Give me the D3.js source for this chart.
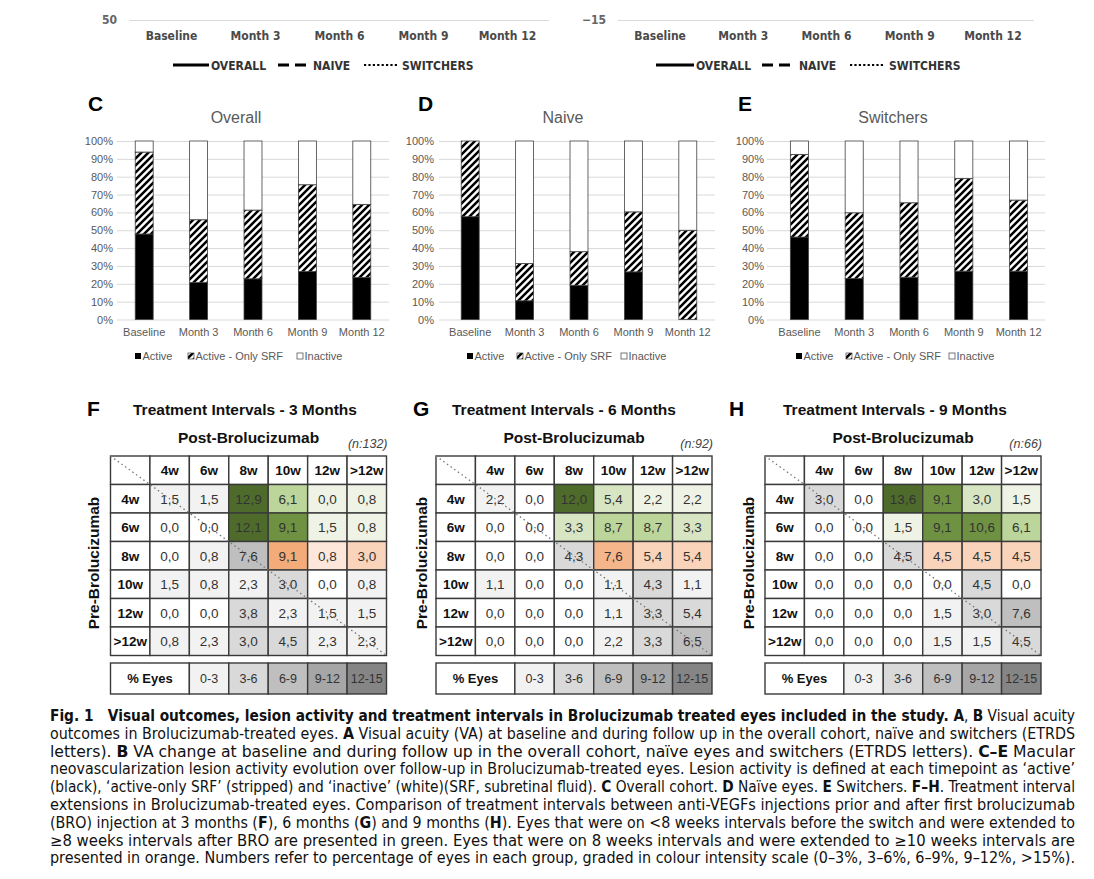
<!DOCTYPE html>
<html>
<head>
<meta charset="utf-8">
<script src="https://cdn.jsdelivr.net/npm/d3@7"></script>
<style>
  body { margin: 0; background: #fff; }
  svg { display: block; font-family: "Liberation Sans", Arial, sans-serif; }
</style>
</head>
<body>
<svg id="fig" width="1094" height="879"></svg>
<script>
// ---- data ----
const months = ['Baseline', 'Month 3', 'Month 6', 'Month 9', 'Month 12'];
const vaTicksA = [50];
const vaTicksB = [-15];
const vaSeries = ['OVERALL', 'NAIVE', 'SWITCHERS'];

const pctTicks = [0, 10, 20, 30, 40, 50, 60, 70, 80, 90, 100];
const activityKeys = ['Active', 'Active - Only SRF', 'Inactive'];

// % of eyes per timepoint
const overallActive = [47.9, 20.7, 22.8, 26.9, 23.6];
const overallSrf = [45.9, 35.2, 38.5, 48.6, 40.9];
const overallInactive = [6.2, 44.1, 38.7, 24.5, 35.5];

const naiveActive = [57.6, 10.5, 19.2, 26.7, 0];
const naiveSrf = [42.4, 20.9, 18.8, 33.6, 50.0];
const naiveInactive = [0, 68.6, 62.0, 39.7, 50.0];

const switchActive = [46.2, 23.0, 23.7, 27.1, 27.1];
const switchSrf = [46.3, 36.8, 41.7, 52.0, 39.8];
const switchInactive = [7.5, 40.2, 34.6, 20.9, 33.1];

// treatment intervals, rows = pre, cols = post
const weeks = ['4w', '6w', '8w', '10w', '12w', '>12w'];
const scaleLabels = ['0-3', '3-6', '6-9', '9-12', '12-15'];
const scaleMid = [1.5, 4.5, 7.5, 10.5, 13.5];

const months3 = [
  [1.5, 1.5, 12.9, 6.1, 0.0, 0.8],
  [0.0, 0.0, 12.1, 9.1, 1.5, 0.8],
  [0.0, 0.8, 7.6, 9.1, 0.8, 3.0],
  [1.5, 0.8, 2.3, 3.0, 0.0, 0.8],
  [0.0, 0.0, 3.8, 2.3, 1.5, 1.5],
  [0.8, 2.3, 3.0, 4.5, 2.3, 2.3]
];
const months6 = [
  [2.2, 0.0, 12.0, 5.4, 2.2, 2.2],
  [0.0, 0.0, 3.3, 8.7, 8.7, 3.3],
  [0.0, 0.0, 4.3, 7.6, 5.4, 5.4],
  [1.1, 0.0, 0.0, 1.1, 4.3, 1.1],
  [0.0, 0.0, 0.0, 1.1, 3.3, 5.4],
  [0.0, 0.0, 0.0, 2.2, 3.3, 6.5]
];
const months9 = [
  [3.0, 0.0, 13.6, 9.1, 3.0, 1.5],
  [0.0, 0.0, 1.5, 9.1, 10.6, 6.1],
  [0.0, 0.0, 4.5, 4.5, 4.5, 4.5],
  [0.0, 0.0, 0.0, 0.0, 4.5, 0.0],
  [0.0, 0.0, 0.0, 1.5, 3.0, 7.6],
  [0.0, 0.0, 0.0, 1.5, 1.5, 4.5]
];

const captionLines = [
  '**Fig. 1   Visual outcomes, lesion activity and treatment intervals in Brolucizumab treated eyes included in the study. A**, **B** Visual acuity',
  'outcomes in Brolucizumab-treated eyes. **A** Visual acuity (VA) at baseline and during follow up in the overall cohort, naïve and switchers (ETRDS',
  'letters). **B** VA change at baseline and during follow up in the overall cohort, naïve eyes and switchers (ETRDS letters). **C–E** Macular',
  'neovascularization lesion activity evolution over follow-up in Brolucizumab-treated eyes. Lesion activity is defined at each timepoint as ‘active’',
  '(black), ‘active-only SRF’ (stripped) and ‘inactive’ (white)(SRF, subretinal fluid). **C** Overall cohort. **D** Naïve eyes. **E** Switchers. **F–H**. Treatment interval',
  'extensions in Brolucizumab-treated eyes. Comparison of treatment intervals between anti-VEGFs injections prior and after first brolucizumab',
  '(BRO) injection at 3 months (**F**), 6 months (**G**) and 9 months (**H**). Eyes that were on <8 weeks intervals before the switch and were extended to',
  '≥8 weeks intervals after BRO are presented in green. Eyes that were on 8 weeks intervals and were extended to ≥10 weeks intervals are',
  'presented in orange. Numbers refer to percentage of eyes in each group, graded in colour intensity scale (0–3%, 3–6%, 6–9%, 9–12%, >15%).'
];

// ---- drawing ----
const svg = d3.select('#fig');
const narrow = '"Liberation Sans Narrow", "DejaVu Sans Condensed", "Liberation Sans", sans-serif';
const grid = '#d9d9d9';
const axisText = '#595959';

const defs = svg.append('defs');
const hatch = defs.append('pattern').attr('id', 'hatch')
  .attr('patternUnits', 'userSpaceOnUse').attr('width', 7).attr('height', 7);
hatch.append('rect').attr('width', 7).attr('height', 7).attr('fill', '#fff');
hatch.append('path').attr('d', 'M-1.75,1.75 l3.5,-3.5 M0,7 l7,-7 M5.25,8.75 l3.5,-3.5')
  .attr('stroke', '#000').attr('stroke-width', 2.5);

// A / B: only the bottom edge of the VA charts is in the crop
function drawVaFragment(xr, ticks, legend) {
  const g = svg.append('g');
  const x = d3.scalePoint().domain(months).range(xr).padding(0.5);
  const y = d3.scaleLinear().domain([ticks[0], ticks[0] + 10]).range([20, -100]);

  const ya = g.append('g').attr('transform', `translate(${xr[0]},0)`)
    .call(d3.axisLeft(y).tickValues(ticks).tickSize(-(xr[1] - xr[0])).tickPadding(12));
  ya.select('.domain').remove();
  ya.selectAll('line').attr('stroke', grid).attr('stroke-width', 1.2);
  ya.selectAll('text').attr('font-family', narrow).attr('font-size', 12)
    .attr('font-weight', 'bold').attr('fill', '#666');

  const xa = g.append('g').attr('transform', 'translate(0,20)')
    .call(d3.axisBottom(x).tickSize(0).tickPadding(11));
  xa.select('.domain').remove();
  xa.selectAll('text').attr('font-family', narrow).attr('font-size', 12)
    .attr('font-weight', 'bold').attr('fill', '#4a4a4a');

  const dashes = [null, '11,6', '2.2,2.2'];
  const widths = [3, 3, 2.2];
  vaSeries.forEach((name, i) => {
    const it = legend[i];
    g.append('line').attr('x1', it[0]).attr('x2', it[1]).attr('y1', 65).attr('y2', 65)
      .attr('stroke', '#000').attr('stroke-width', widths[i])
      .attr('stroke-dasharray', dashes[i]);
    g.append('text').attr('x', it[2]).attr('y', 69.5).text(name)
      .attr('font-family', narrow).attr('font-size', 12).attr('font-weight', 'bold').attr('fill', '#333');
  });
}
drawVaFragment([129, 549], vaTicksA, [[173, 209, 211], [278, 307, 313], [364, 399, 402]]);
drawVaFragment([618, 1034], vaTicksB, [[656, 694, 696], [762, 792, 799], [850, 885, 889]]);

// C - E: lesion activity stacked bars
const fills = { 'Active': '#000', 'Active - Only SRF': 'url(#hatch)', 'Inactive': '#fff' };
const activityPanels = [
  { letter: 'C', letterX: 88, title: 'Overall', titleX: 236, x0: 117, x1: 389, labelX: 113, gx0: 117, gx1: 389,
    vals: [overallActive, overallSrf, overallInactive], leg: [135, 188, 297] },
  { letter: 'D', letterX: 418, title: 'Naive', titleX: 563, x0: 443, x1: 715, labelX: 434, gx0: 439, gx1: 715,
    vals: [naiveActive, naiveSrf, naiveInactive], leg: [467, 517, 621] },
  { letter: 'E', letterX: 738, title: 'Switchers', titleX: 893, x0: 772, x1: 1046, labelX: 764, gx0: 767, gx1: 1045,
    vals: [switchActive, switchSrf, switchInactive], leg: [796, 846, 949] }
];

activityPanels.forEach(p => {
  const g = svg.append('g');
  const x = d3.scaleBand().domain(months).range([p.x0, p.x1]).paddingInner(0.67).paddingOuter(0.335);
  const y = d3.scaleLinear().domain([0, 100]).range([319.5, 141]);

  g.append('text').attr('x', p.letterX).attr('y', 111).text(p.letter)
    .attr('font-size', 21).attr('font-weight', 'bold').attr('fill', '#000');
  g.append('text').attr('x', p.titleX).attr('y', 123).attr('text-anchor', 'middle').text(p.title)
    .attr('font-size', 16).attr('fill', axisText);

  const gridAxis = g.append('g').attr('transform', `translate(${p.gx0},0)`)
    .call(d3.axisLeft(y).tickValues(pctTicks).tickSize(-(p.gx1 - p.gx0)).tickFormat(''));
  gridAxis.select('.domain').remove();
  gridAxis.selectAll('line').attr('stroke', grid).attr('stroke-width', 1);

  const ya = g.append('g').attr('transform', `translate(${p.labelX},0)`)
    .call(d3.axisLeft(y).tickValues(pctTicks).tickSize(0).tickPadding(0).tickFormat(d => d + '%'));
  ya.select('.domain').remove();
  ya.selectAll('text').attr('font-size', 11).attr('fill', axisText);

  const xa = g.append('g').attr('transform', 'translate(0,319.5)')
    .call(d3.axisBottom(x).tickSize(0).tickPadding(9));
  xa.select('.domain').remove();
  xa.selectAll('text').attr('font-size', 11).attr('fill', axisText);

  const rows = months.map((m, i) => {
    const r = { month: m };
    activityKeys.forEach((k, j) => { r[k] = p.vals[j][i]; });
    return r;
  });
  const series = d3.stack().keys(activityKeys)(rows);
  g.selectAll('g.layer').data(series).join('g').attr('class', 'layer')
    .attr('fill', d => fills[d.key])
    .selectAll('rect').data(d => d.filter(s => s[1] - s[0] > 0)).join('rect')
    .attr('x', d => x(d.data.month)).attr('width', x.bandwidth())
    .attr('y', d => y(d[1])).attr('height', d => y(d[0]) - y(d[1]))
    .attr('stroke', '#404040').attr('stroke-width', 0.8);

  activityKeys.forEach((k, j) => {
    const lx = p.leg[j];
    g.append('rect').attr('x', lx).attr('y', 353).attr('width', 6).attr('height', 6)
      .attr('fill', fills[k]).attr('stroke', j ? '#404040' : 'none').attr('stroke-width', 0.7);
    g.append('text').attr('x', lx + 7.5).attr('y', 360).text(k)
      .attr('font-size', 11).attr('fill', axisText);
  });
});

// F - H: treatment interval tables
const greyScale = d3.scaleThreshold().domain([3, 6, 9, 12])
  .range(['#f2f2f2', '#d9d9d9', '#bfbfbf', '#a6a6a6', '#858585']);
const greenScale = d3.scaleThreshold().domain([3, 6, 9, 12])
  .range(['#eef3e5', '#d8e5c3', '#bcd59a', '#6f9242', '#4e6b2c']);
const orangeScale = d3.scaleThreshold().domain([3, 6, 9, 12])
  .range(['#fde7da', '#f9d4bb', '#f5b68c', '#f3ab7a', '#e8955c']);
const fmt = d3.formatLocale({ decimal: ',', thousands: '.', grouping: [3], currency: ['', ''] }).format('.1f');

function cellColor(v, r, c) {
  if (r < 2 && c >= 2) return greenScale(v);   // <8w extended to >=8w
  if (r === 2 && c >= 3) return orangeScale(v); // 8w extended to >=10w
  return v === 0 ? '#fff' : greyScale(v);
}

const tablePanels = [
  { letter: 'F', letterX: 87, title: 'Treatment Intervals - 3 Months', titleX: 133, n: '(n:132)', x: 110.5, preX: 93, data: months3 },
  { letter: 'G', letterX: 413, title: 'Treatment Intervals - 6 Months', titleX: 452, n: '(n:92)', x: 436, preX: 421, data: months6 },
  { letter: 'H', letterX: 729, title: 'Treatment Intervals - 9 Months', titleX: 783, n: '(n:66)', x: 765, preX: 748, data: months9 }
];
const border = '#3a3a3a';

tablePanels.forEach(p => {
  const g = svg.append('g');
  const w = 276;
  const col = d3.scaleBand().domain(['', ...weeks]).range([p.x, p.x + w]);
  const row = d3.scaleBand().domain(['', ...weeks]).range([456, 655.5]);
  const cw = col.bandwidth(), rh = row.bandwidth();

  g.append('text').attr('x', p.letterX).attr('y', 416).text(p.letter)
    .attr('font-size', 21).attr('font-weight', 'bold');
  g.append('text').attr('x', p.titleX).attr('y', 415).text(p.title)
    .attr('font-size', 15.5).attr('font-weight', 'bold').attr('fill', '#111');
  g.append('text').attr('x', p.x + 138).attr('y', 443).attr('text-anchor', 'middle').text('Post-Brolucizumab')
    .attr('font-size', 15.5).attr('font-weight', 'bold').attr('fill', '#111');
  g.append('text').attr('x', p.x + w + 1).attr('y', 448).attr('text-anchor', 'end').text(p.n)
    .attr('font-size', 12.5).attr('font-style', 'italic').attr('fill', '#444');
  g.append('text').attr('transform', `translate(${p.preX + 5.5},563) rotate(-90)`)
    .attr('text-anchor', 'middle').text('Pre-Brolucizumab')
    .attr('font-size', 15.5).attr('font-weight', 'bold').attr('fill', '#111');

  // header row + header column
  const heads = [{ r: '', c: '', t: '' }]
    .concat(weeks.map(wk => ({ r: '', c: wk, t: wk })))
    .concat(weeks.map(wk => ({ r: wk, c: '', t: wk })));
  g.selectAll('rect.head').data(heads).join('rect').attr('class', 'head')
    .attr('x', d => col(d.c)).attr('y', d => row(d.r)).attr('width', cw).attr('height', rh)
    .attr('fill', '#fff').attr('stroke', border).attr('stroke-width', 1.4);
  g.selectAll('text.head').data(heads.filter(d => d.t)).join('text').attr('class', 'head')
    .attr('x', d => col(d.c) + cw / 2).attr('y', d => row(d.r) + rh / 2 + 5)
    .attr('text-anchor', 'middle').text(d => d.t)
    .attr('font-size', 13.5).attr('font-weight', 'bold').attr('fill', '#111');

  const cells = [];
  p.data.forEach((vals, r) => vals.forEach((v, c) => cells.push({ r, c, v })));
  g.selectAll('rect.cell').data(cells).join('rect').attr('class', 'cell')
    .attr('x', d => col(weeks[d.c])).attr('y', d => row(weeks[d.r]))
    .attr('width', cw).attr('height', rh)
    .attr('fill', d => cellColor(d.v, d.r, d.c)).attr('stroke', border).attr('stroke-width', 1.4);
  g.selectAll('text.cell').data(cells).join('text').attr('class', 'cell')
    .attr('x', d => col(weeks[d.c]) + cw / 2).attr('y', d => row(weeks[d.r]) + rh / 2 + 5)
    .attr('text-anchor', 'middle').text(d => fmt(d.v))
    .attr('font-size', 13.5).attr('fill', '#333');

  // diagonal (no change in interval)
  g.append('line').attr('x1', p.x).attr('y1', 456).attr('x2', p.x + w).attr('y2', 655.5)
    .attr('stroke', '#777').attr('stroke-width', 1.3).attr('stroke-dasharray', '1.5,3');

  // colour key
  const ky = 663, kh = 31;
  g.append('rect').attr('x', col('')).attr('y', ky).attr('width', cw * 2).attr('height', kh)
    .attr('fill', '#fff').attr('stroke', border).attr('stroke-width', 1.4);
  g.append('text').attr('x', col('') + cw).attr('y', ky + kh / 2 + 4.5).attr('text-anchor', 'middle')
    .text('% Eyes').attr('font-size', 13).attr('font-weight', 'bold').attr('fill', '#111');
  const keyCols = weeks.slice(1);
  g.selectAll('rect.key').data(scaleLabels).join('rect').attr('class', 'key')
    .attr('x', (d, i) => col(keyCols[i])).attr('y', ky).attr('width', cw).attr('height', kh)
    .attr('fill', (d, i) => greyScale(scaleMid[i])).attr('stroke', border).attr('stroke-width', 1.4);
  g.selectAll('text.key').data(scaleLabels).join('text').attr('class', 'key')
    .attr('x', (d, i) => col(keyCols[i]) + cw / 2).attr('y', ky + kh / 2 + 4.5)
    .attr('text-anchor', 'middle').text(d => d)
    .attr('font-size', 12.5).attr('fill', '#333');
});

// caption (justified lines)
const cap = svg.append('g').attr('font-family', narrow).attr('font-size', 15).attr('fill', '#111');
captionLines.forEach((line, i) => {
  const t = cap.append('text').attr('x', 50).attr('y', 721 + 17.8 * i)
    .attr('textLength', 1025).attr('lengthAdjust', 'spacingAndGlyphs')
    .style('white-space', 'pre');
  line.split('**').forEach((s, j) => {
    if (!s) return;
    t.append('tspan').attr('font-weight', j % 2 ? 'bold' : null).text(s);
  });
});
</script>
</body>
</html>
